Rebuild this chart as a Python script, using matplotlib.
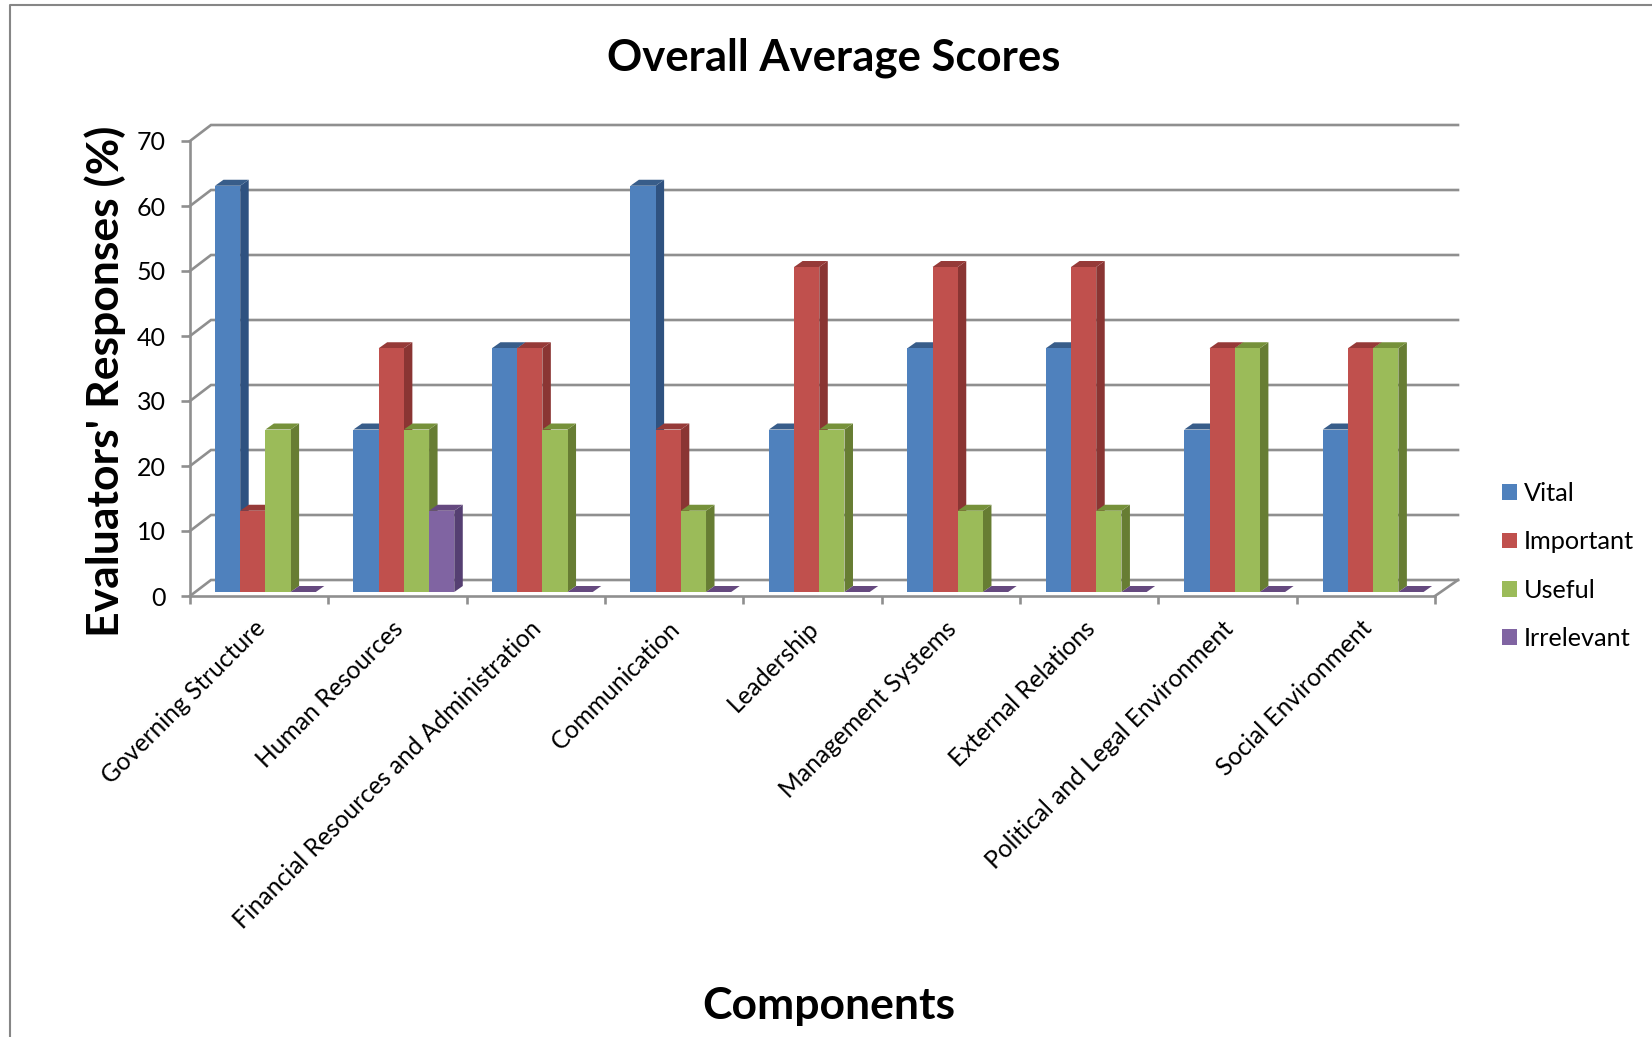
import matplotlib
matplotlib.use('Agg')
import matplotlib.pyplot as plt
from matplotlib.lines import Line2D
from matplotlib.patches import Patch

plt.rcParams['font.family'] = ['Lato', 'DejaVu Sans']

categories = ['Governing Structure', 'Human Resources', 'Financial Resources and Administration',
              'Communication', 'Leadership', 'Management Systems', 'External Relations',
              'Political and Legal Environment', 'Social Environment']
vital = [62.5, 25, 37.5, 62.5, 25, 37.5, 37.5, 25, 25]
important = [12.5, 37.5, 37.5, 25, 50, 50, 50, 37.5, 37.5]
useful = [25, 25, 25, 12.5, 25, 12.5, 12.5, 37.5, 37.5]
irrelevant = [0, 12.5, 0, 0, 0, 0, 0, 0, 0]
y_ticks = [0, 10, 20, 30, 40, 50, 60, 70]

series = [('Vital', vital, '#4F81BD', '#385D8A', '#2F5280'),
          ('Important', important, '#C0504D', '#963A38', '#8A3533'),
          ('Useful', useful, '#9BBB59', '#76913A', '#677D33'),
          ('Irrelevant', irrelevant, '#8064A2', '#65497F', '#553F72')]

W, H = 1652, 1037
grey = '#8F8F8F'
fig = plt.figure(figsize=(W / 100, H / 100), dpi=100)
ax = fig.add_axes([190 / W, 1 - 596 / H, 1245 / W, 455 / H])
ax.set_xlim(0, 9)
ax.set_ylim(0, 70)

# pixels to data units, for the fake 3d offsets
px_x = 9 / 1245
px_y = 70 / 455
wall_left, wall_right, wall_dy = 21 * px_x, 23 * px_x, 16 * px_y
bar_dx, bar_dy = 8.5 * px_x, 6 * px_y
base = 4 * px_y
bar_w = 25.2 * px_x
first = 25 * px_x
spacing = 1.001

# back wall lines
for v in y_ticks:
    ax.plot([0, wall_left, 9 + wall_right], [v, v + wall_dy, v + wall_dy], color=grey, lw=1.9,
            clip_on=False, zorder=1, solid_joinstyle='miter')
ax.plot([9, 9 + wall_right], [0, wall_dy], color=grey, lw=1.9, clip_on=False, zorder=1)

# bars, each with a side and a top face
for s, (name, vals, front, top, side) in enumerate(series):
    for i, v in enumerate(vals):
        x0 = i * spacing + first + s * bar_w
        x1 = x0 + bar_w
        y1 = base + v
        z = 3 + s
        if v > 0:
            ax.fill([x1, x1 + bar_dx, x1 + bar_dx, x1], [base, base + bar_dy, y1 + bar_dy, y1],
                    color=side, lw=0, clip_on=False, zorder=z)
        ax.fill([x0, x1, x1 + bar_dx, x0 + bar_dx], [y1, y1, y1 + bar_dy, y1 + bar_dy],
                color=top, lw=0, clip_on=False, zorder=z)
        if v > 0:
            ax.bar(x0, v, bar_w, bottom=base, align='edge', color=front, lw=0, zorder=z)

for sp in ['top', 'right']:
    ax.spines[sp].set_visible(False)
for sp in ['left', 'bottom']:
    ax.spines[sp].set_color(grey)
    ax.spines[sp].set_linewidth(1.9)
    ax.spines[sp].set_zorder(2)

ax.set_yticks(y_ticks)
ax.tick_params(axis='y', length=6.5, width=1.9, color=grey, labelsize=18, pad=11)
ax.set_xticks(range(10))
ax.set_xticklabels([])
ax.tick_params(axis='x', which='major', length=6, width=1.9, color=grey)
ax.set_xticks([i + 0.455 for i in range(9)], minor=True)
ax.set_xticklabels(categories, minor=True, rotation=45, ha='right', rotation_mode='anchor', fontsize=17.7)
ax.tick_params(axis='x', which='minor', length=0, pad=14.8)

fig.text(834 / W, 1 - 58 / H, 'Overall Average Scores', fontsize=31.4, fontweight='bold', ha='center', va='center')
fig.text(829 / W, 1 - 1006 / H, 'Components', fontsize=32, fontweight='bold', ha='center', va='center')
fig.text(105 / W, 1 - 381 / H, "Evaluators' Responses (%)", fontsize=32, fontweight='bold', rotation=90,
         ha='center', va='center')

handles = [Patch(color=c[2], lw=0) for c in series]
fig.legend(handles, [c[0] for c in series], loc='center left', bbox_to_anchor=(1502 / W, 1 - 566 / H),
           frameon=False, fontsize=18.2, handlelength=0.59, handleheight=0.59, handletextpad=0.26,
           labelspacing=1.0, borderpad=0, borderaxespad=0)

# outer frame of the chart, runs off the picture on the right and bottom
fig.add_artist(Line2D([10 / W, 10 / W, 1], [0, 1 - 5 / H, 1 - 5 / H], color='#868686', lw=1.5))

fig.savefig('out.png', dpi=100)
